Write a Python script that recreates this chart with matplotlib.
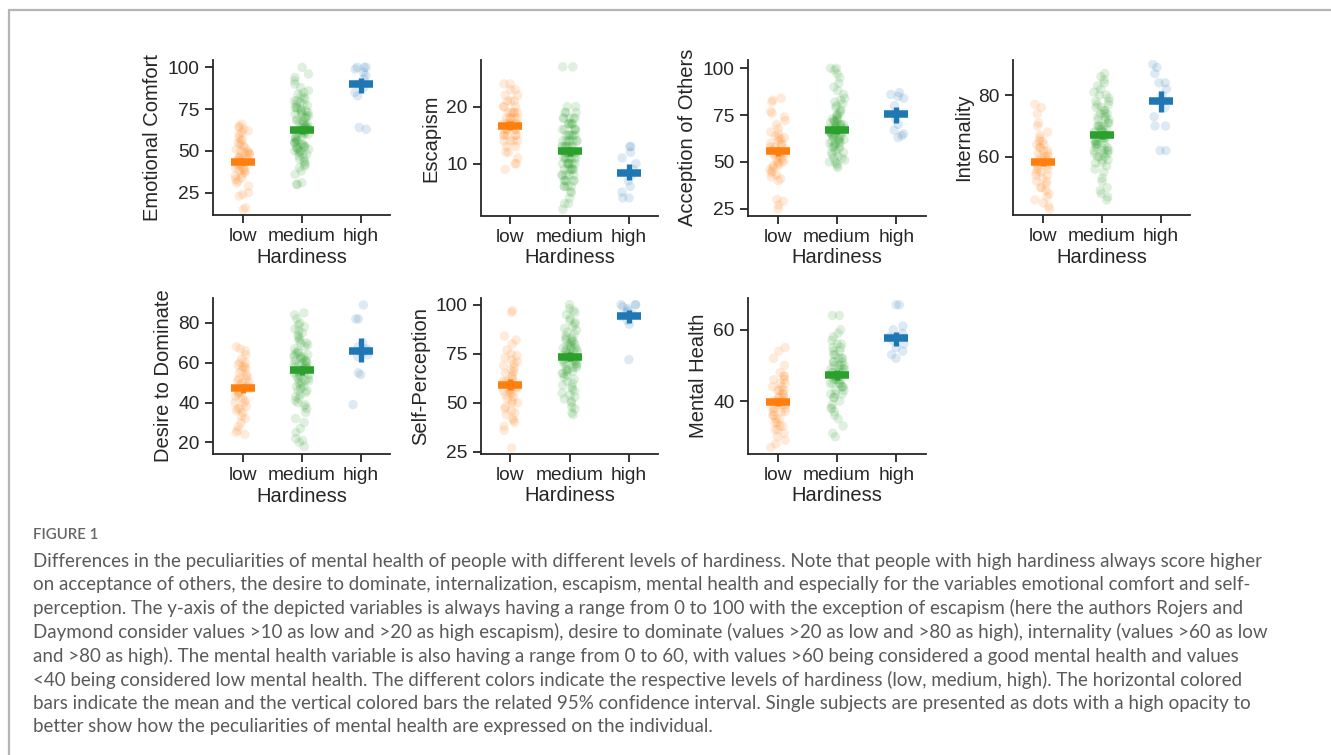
import numpy as np
import pandas as pd
import matplotlib
matplotlib.use("Agg")
import matplotlib.pyplot as plt
import seaborn as sns
from matplotlib.lines import Line2D

# ---------------- data ----------------
levels = ["low", "medium", "high"]
colors = ["#ff7f0e", "#2ca02c", "#1f77b4"]

ec_low = [15,16,23,24,25,29,31,32,33,34,35,36,37,38,38,39,40,40,41,42,42,43,44,44,45,45,46,46,47,48,48,49,49,50,50,51,52,53,54,55,56,57,58,60,61,62,63,64,65,66]
ec_med = [30,30,31,36,38,40,41,42,43,44,45,46,47,48,49,50,50,51,51,52,52,53,53,54,54,55,55,56,57,58,58,59,60,60,61,61,62,62,63,63,64,64,65,65,66,66,67,67,68,68,69,70,70,71,71,72,72,73,73,74,74,75,75,76,76,77,78,78,79,80,80,81,82,83,84,85,86,88,90,92,94,96,100,48,52,56,60,64,50,55]
ec_high = [100,100,100,99,97,95,93,90,88,85,83,64,63]

es_low = [9,10,10,11,12,12,13,13,14,14,14,15,15,15,15,16,16,16,16,17,17,17,17,17,18,18,18,18,19,19,19,19,20,20,20,21,21,21,22,22,23,23,24,24,16,17,18,15,14,19]
es_med = [2,3,3,4,5,5,6,6,6,7,7,7,7,8,8,8,8,9,9,9,9,9,10,10,10,10,10,11,11,11,11,11,12,12,12,12,12,12,13,13,13,13,13,14,14,14,14,14,15,15,15,15,15,16,16,16,16,17,17,17,17,18,18,18,18,19,19,19,20,20,27,27,12,13,11,10,14,15,16,9,8,12,13,11,10,14,17,18,7,6]
es_high = [4,4,5,6,7,8,9,10,11,12,13,13]

ao_low = [25,27,29,30,40,41,42,43,44,45,46,47,48,48,49,50,50,51,52,52,53,54,54,55,55,56,56,57,58,58,59,60,60,61,62,63,63,64,65,66,68,70,72,74,76,77,82,83,84]
ao_med = [47,48,49,50,50,51,52,53,54,55,56,57,58,58,59,60,60,61,61,62,62,63,63,64,64,65,65,66,66,67,67,68,68,68,69,69,70,70,70,71,71,72,72,73,73,74,75,76,77,78,79,80,81,82,83,84,86,88,90,92,95,97,99,100,100,52,55,58,62,65,68,70,72,75,66,64,60]
ao_high = [63,64,65,67,70,73,76,80,84,85,86,87]

in_low = [43,44,45,46,47,48,49,50,50,51,52,52,53,54,54,55,55,56,56,57,57,58,58,58,59,59,60,60,60,61,61,62,62,63,63,64,64,65,65,66,67,68,70,71,74,77,76]
in_med = [46,47,48,49,50,52,53,55,56,57,58,58,59,59,60,60,61,61,61,62,62,62,63,63,63,64,64,64,65,65,65,66,66,66,67,67,67,68,68,68,69,69,69,70,70,70,71,71,72,72,73,73,74,74,75,75,76,76,77,77,78,78,79,80,80,81,82,83,84,85,86,87,62,64,66,68,70,72,74,60]
in_high = [62,62,70,70,73,76,80,82,84,84,87,89,90]

dd_low = [24,25,26,28,30,32,33,35,36,37,37,38,40,40,41,42,43,44,45,45,46,47,47,48,48,49,50,50,51,52,52,53,54,55,56,57,58,58,59,60,60,62,64,66,67,68]
dd_med = [18,20,21,22,25,27,30,32,35,37,38,39,40,41,42,43,44,45,46,46,47,48,48,49,50,50,51,51,52,52,53,53,54,54,55,55,56,56,57,57,58,58,59,59,60,60,61,61,62,62,63,63,64,64,65,66,67,68,69,70,70,71,72,73,74,75,76,77,78,79,80,82,84,85,55,57,59,61,63,65]
dd_high = [39,54,55,63,64,65,66,67,68,70,82,82,89]

sp_low = [27,36,38,40,41,42,44,45,46,47,48,50,50,51,52,53,54,55,56,56,57,58,58,59,60,60,61,62,63,64,65,66,67,68,69,70,71,72,73,74,75,77,80,82,84,96,97,58,61,55]
sp_med = [44,45,47,48,50,51,52,53,54,55,56,57,58,59,60,61,62,63,64,65,65,66,66,67,67,68,68,69,69,70,70,71,71,72,72,73,73,74,74,75,75,76,76,77,77,78,78,79,79,80,80,81,81,82,82,83,83,84,85,86,87,88,89,90,91,92,93,95,96,97,98,100,70,74,78,72,76]
sp_high = [72,90,92,94,95,96,97,98,99,100,100,100]

mh_low = [27,28,29,30,31,32,32,33,33,34,34,35,35,36,36,37,37,38,38,38,39,39,40,40,40,41,41,42,42,43,43,44,44,45,45,46,46,47,47,48,50,52,54,55,37,39,41,43]
mh_med = [30,31,33,35,36,37,38,39,40,41,41,42,42,43,43,44,44,45,45,45,46,46,46,47,47,47,48,48,48,49,49,49,50,50,50,51,51,51,52,52,53,53,54,54,55,55,56,56,57,58,59,60,64,64,44,46,48,50,47,45,49,42,38,52]
mh_high = [52,53,54,55,56,57,58,59,60,61,67,67]

# means and 95% CI: (low, medium, high)
ec_mean = [43.6, 62.6, 89.9]; ec_lo = [41.8, 60.2, 84.8]; ec_hi = [45.6, 65.0, 93.6]
es_mean = [16.7, 12.2, 8.4];  es_lo = [15.9, 11.3, 7.1];  es_hi = [17.5, 13.0, 9.9]
ao_mean = [55.7, 66.9, 75.5]; ao_lo = [53.2, 64.8, 71.0]; ao_hi = [58.0, 69.0, 79.5]
in_mean = [58.2, 67.0, 78.2]; in_lo = [57.0, 65.8, 74.6]; in_hi = [59.4, 68.3, 81.4]
dd_mean = [47.2, 56.2, 66.0]; dd_lo = [45.0, 54.0, 60.2]; dd_hi = [49.5, 58.5, 72.2]
sp_mean = [59.1, 73.6, 94.0]; sp_lo = [56.5, 71.5, 90.5]; sp_hi = [62.0, 75.8, 97.4]
mh_mean = [39.8, 47.3, 57.6]; mh_lo = [38.7, 46.0, 55.5]; mh_hi = [41.0, 48.6, 59.5]

ylabels = ["Emotional Comfort", "Escapism", "Acception of Others", "Internality",
           "Desire to Dominate", "Self-Perception", "Mental Health"]
yticks = [[25, 50, 75, 100], [10, 20], [25, 50, 75, 100], [60, 80],
          [20, 40, 60, 80], [25, 50, 75, 100], [40, 60]]
xlabel = "Hardiness"

caption_head = "FIGURE 1"
caption_lines = [
    "Differences in the peculiarities of mental health of people with different levels of hardiness. Note that people with high hardiness always score higher",
    "on acceptance of others, the desire to dominate, internalization, escapism, mental health and especially for the variables emotional comfort and self-",
    "perception. The y-axis of the depicted variables is always having a range from 0 to 100 with the exception of escapism (here the authors Rojers and",
    "Daymond consider values >10 as low and >20 as high escapism), desire to dominate (values >20 as low and >80 as high), internality (values >60 as low",
    "and >80 as high). The mental health variable is also having a range from 0 to 60, with values >60 being considered a good mental health and values",
    "<40 being considered low mental health. The different colors indicate the respective levels of hardiness (low, medium, high). The horizontal colored",
    "bars indicate the mean and the vertical colored bars the related 95% confidence interval. Single subjects are presented as dots with a high opacity to",
    "better show how the peculiarities of mental health are expressed on the individual.",
]

panels = [
    (ec_low, ec_med, ec_high, ec_mean, ec_lo, ec_hi),
    (es_low, es_med, es_high, es_mean, es_lo, es_hi),
    (ao_low, ao_med, ao_high, ao_mean, ao_lo, ao_hi),
    (in_low, in_med, in_high, in_mean, in_lo, in_hi),
    (dd_low, dd_med, dd_high, dd_mean, dd_lo, dd_hi),
    (sp_low, sp_med, sp_high, sp_mean, sp_lo, sp_hi),
    (mh_low, mh_med, mh_high, mh_mean, mh_lo, mh_hi),
]

# ---------------- layout ----------------
sns.set_style("ticks")
plt.rcParams["font.family"] = ["Liberation Sans", "DejaVu Sans"]
TXT = "#262626"

W, H = 1331, 755
fig = plt.figure(figsize=(W / 100, H / 100), dpi=100)
fig.patch.set_facecolor("white")

def rect(l, r, t, b):
    return [l / W, 1 - b / H, (r - l) / W, (b - t) / H]

boxes = [
    (213, 390, 60, 215),
    (481, 658, 60, 215.5),
    (748, 926, 60, 215.5),
    (1013, 1190, 60, 215),
    (213, 390, 298, 454),
    (481, 658, 298, 453.5),
    (748, 926, 298, 453.5),
]
ylims = [(11.7, 104.4), (0.9, 28.2), (21.4, 104.4), (41.1, 91.4),
         (14.2, 92.5), (24.2, 103.4), (25.3, 68.9)]

np.random.seed(3)
for k, (lo_v, md_v, hi_v, mean, clo, chi) in enumerate(panels):
    ax = fig.add_axes(rect(*boxes[k]))
    df = pd.DataFrame({
        "Hardiness": ["low"] * len(lo_v) + ["medium"] * len(md_v) + ["high"] * len(hi_v),
        "value": lo_v + md_v + hi_v,
    })
    sns.stripplot(data=df, x="Hardiness", y="value", hue="Hardiness",
                  order=levels, hue_order=levels, palette=colors,
                  jitter=0.13, size=6.8, alpha=0.15, linewidth=0,
                  legend=False, ax=ax, zorder=1)
    for i in range(3):
        ax.errorbar(i, mean[i], yerr=[[mean[i] - clo[i]], [chi[i] - mean[i]]],
                    fmt="_", color=colors[i], markersize=17, mew=5.4,
                    elinewidth=3.8, capsize=0, zorder=4)
    ax.set_xlim(-0.5, 2.5)
    ax.set_ylim(*ylims[k])
    ax.set_yticks(yticks[k])
    ax.set_xticks([0, 1, 2])
    ax.set_xticklabels(levels)
    sns.despine(ax=ax)
    for s in ["left", "bottom"]:
        ax.spines[s].set_linewidth(1.3)
        ax.spines[s].set_color(TXT)
    ax.tick_params(length=6, width=1.3, pad=3.5, labelsize=13.8, colors=TXT)
    ax.set_xlabel(xlabel, fontsize=14.5, color=TXT, labelpad=2)
    ax.set_ylabel(ylabels[k], fontsize=14.5, color=TXT, labelpad=4)

# ---------------- caption ----------------
cap_col = "#5a5a5a"
fig.text(33 / W, 1 - 535 / H, caption_head, fontsize=10.8, family=["Lato", "DejaVu Sans"],
         color="#666666", va="center", ha="left", fontweight="semibold")
renderer = fig.canvas.get_renderer()
probe = fig.text(0, 0, caption_lines[0], fontsize=12, family=["Lato", "DejaVu Sans"])
wid = probe.get_window_extent(renderer).width
probe.remove()
fs = 12 * 1228 / wid
for j, line in enumerate(caption_lines):
    fig.text(33 / W, 1 - (561 + j * 23.7) / H, line, fontsize=fs,
             family=["Lato", "DejaVu Sans"], color=cap_col, va="center", ha="left")

# ---------------- frame ----------------
fig.add_artist(Line2D([9 / W, 1], [1 - 10 / H, 1 - 10 / H], transform=fig.transFigure,
                      color="#b5b5b5", lw=1.6))
fig.add_artist(Line2D([9 / W, 9 / W], [0, 1 - 10 / H], transform=fig.transFigure,
                      color="#b5b5b5", lw=1.6))

fig.savefig("out.png", dpi=100)
